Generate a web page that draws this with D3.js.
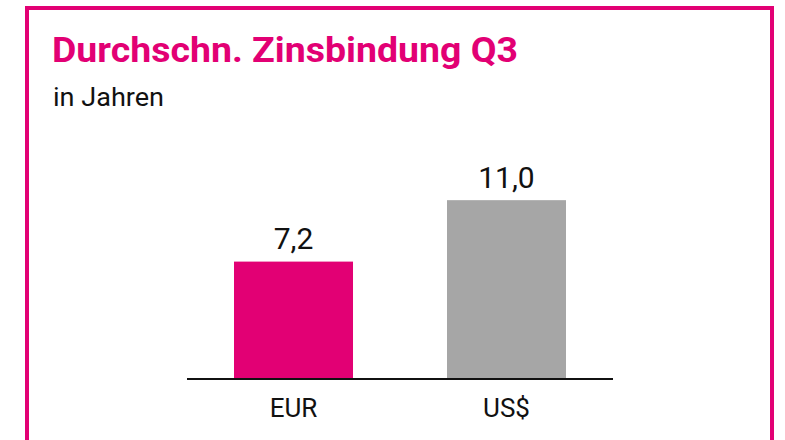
<!DOCTYPE html>
<html>
<head>
<meta charset="utf-8">
<script src="https://cdn.jsdelivr.net/npm/d3@7"></script>
<style>
  html, body { margin: 0; padding: 0; background: #fff; }
  svg { display: block; font-family: Roboto, "Noto Sans", sans-serif; }
</style>
</head>
<body>
<div id="chart"></div>
<script>
// Daten
const categories = ["EUR", "US$"];
const values = [7.2, 11.0];
const labels = ["7,2", "11,0"];
const colors = ["#e20074", "#a6a6a6"];

const width = 785, height = 440;
const magenta = "#e20074";

const svg = d3.select("#chart").append("svg")
  .attr("width", width)
  .attr("height", height);

// Rahmen (unten offen, läuft aus dem Bild)
svg.append("rect")
  .attr("x", 27)
  .attr("y", 8)
  .attr("width", 745)
  .attr("height", 520)
  .attr("fill", "none")
  .attr("stroke", magenta)
  .attr("stroke-width", 4);

// Titel
svg.append("text")
  .attr("x", 52)
  .attr("y", 62)
  .attr("fill", magenta)
  .attr("font-size", 35.5)
  .attr("font-weight", 700)
  .attr("textLength", 466)
  .attr("lengthAdjust", "spacingAndGlyphs")
  .text("Durchschn. Zinsbindung Q3");

svg.append("text")
  .attr("x", 53)
  .attr("y", 106)
  .attr("fill", "#111")
  .attr("font-size", 26)
  .attr("textLength", 111)
  .attr("lengthAdjust", "spacingAndGlyphs")
  .text("in Jahren");

// Skalen
const x = d3.scaleBand()
  .domain(categories)
  .range([187, 613])
  .paddingInner(0.4413)
  .paddingOuter(0.2207);

const y = d3.scaleLinear()
  .domain([0, 12])
  .range([378, 184]);

// Balken
svg.selectAll("rect.bar")
  .data(categories)
  .enter()
  .append("rect")
  .attr("class", "bar")
  .attr("x", d => x(d))
  .attr("y", (d, i) => y(values[i]))
  .attr("width", x.bandwidth())
  .attr("height", (d, i) => y(0) - y(values[i]))
  .attr("fill", (d, i) => colors[i]);

// Werte
svg.selectAll("text.val")
  .data(categories)
  .enter()
  .append("text")
  .attr("class", "val")
  .attr("x", d => x(d) + x.bandwidth() / 2)
  .attr("y", (d, i) => y(values[i]) - 12.5)
  .attr("text-anchor", "middle")
  .attr("font-size", 30)
  .attr("fill", "#111")
  .text((d, i) => labels[i]);

// Achse
const axis = svg.append("g")
  .attr("transform", `translate(0,${y(0)})`)
  .call(d3.axisBottom(x).tickSize(0).tickPadding(0));

axis.select(".domain")
  .attr("d", "M187,1H613")
  .attr("stroke", "#111")
  .attr("stroke-width", 2.2);

axis.selectAll(".tick text")
  .attr("dy", null)
  .attr("y", 39)
  .attr("font-size", 26)
  .attr("font-family", "Roboto, sans-serif")
  .attr("fill", "#111");
</script>
</body>
</html>
